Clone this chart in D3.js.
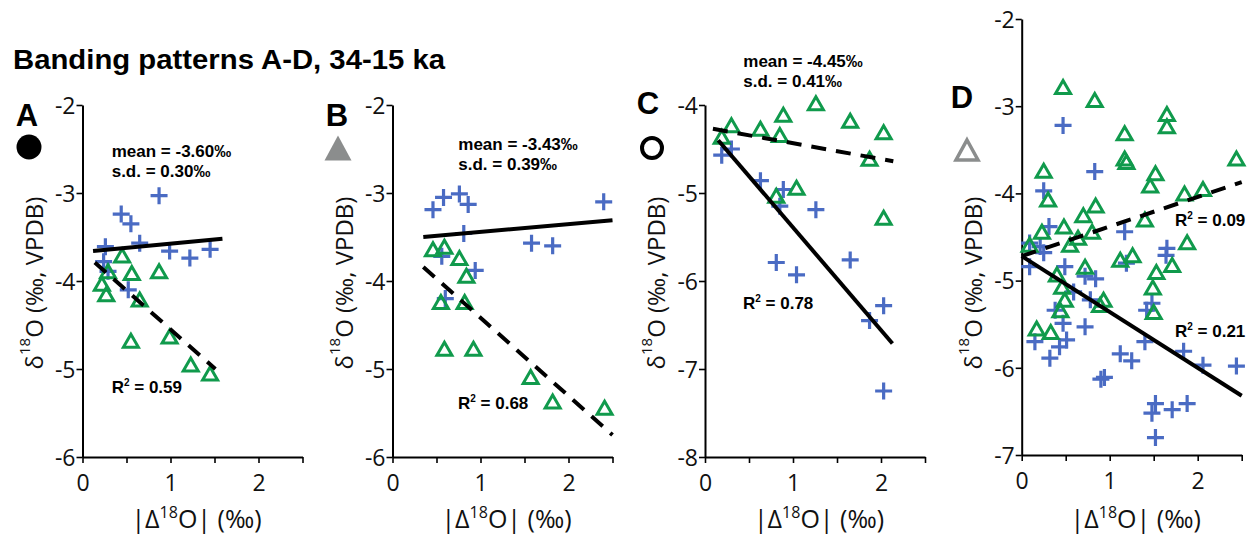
<!DOCTYPE html>
<html><head><meta charset="utf-8">
<script src="https://cdn.jsdelivr.net/npm/d3@7"></script>
<style>body{margin:0;background:#fff}svg{display:block}</style>
</head><body>
<svg id="chart" width="1249" height="536"></svg>
<script>
// ---------- DATA ----------
const titleText = "Banding patterns A-D, 34-15 ka";
const panelLetters = ["A", "B", "C", "D"];
const xTickValues = [0, 0.5, 1, 1.5, 2, 2.5];
const xTickLabels = ["0", "", "1", "", "2", ""];
const yTicksA = [-2, -3, -4, -5, -6];
const yTicksB = [-2, -3, -4, -5, -6];
const yTicksC = [-4, -5, -6, -7, -8];
const yTicksD = [-2, -3, -4, -5, -6, -7];

// blue crosses and green triangles: [|Δ18O|, δ18O]
const crossA = [[0.87,-3.03],[0.44,-3.24],[0.55,-3.35],[0.65,-3.57],[0.26,-3.61],[0.99,-3.66],[1.22,-3.74],[1.45,-3.64],[0.24,-3.78],[0.29,-3.89],[0.52,-4.10]];
const triA = [[0.45,-3.71],[0.29,-3.89],[0.56,-3.91],[0.87,-3.89],[0.22,-4.03],[0.27,-4.15],[0.65,-4.21],[0.55,-4.68],[0.99,-4.63],[1.23,-4.95],[1.45,-5.05]];
const solidA = [[0.12,-3.66],[1.59,-3.52]];
const dashA = [[0.14,-3.79],[1.51,-5.00]];

const crossB = [[0.46,-3.19],[0.58,-3.05],[0.76,-3.01],[0.86,-3.13],[0.81,-3.46],[2.40,-3.10],[1.58,-3.57],[1.82,-3.60],[0.56,-3.72],[0.94,-3.88],[0.60,-4.20]];
const triB = [[0.46,-3.64],[0.59,-3.61],[0.76,-3.74],[0.84,-3.94],[0.55,-4.24],[0.82,-4.24],[0.59,-4.77],[0.92,-4.77],[1.57,-5.09],[1.82,-5.37],[2.41,-5.44]];
const solidB = [[0.35,-3.50],[2.50,-3.31]];
const dashB = [[0.35,-3.84],[2.50,-5.75]];

const crossC = [[0.19,-4.57],[0.30,-4.50],[0.63,-4.86],[0.89,-4.96],[0.85,-5.15],[1.26,-5.19],[0.81,-5.79],[1.04,-5.93],[1.65,-5.76],[2.03,-6.28],[1.87,-6.45],[2.03,-7.25]];
const triC = [[0.19,-4.36],[0.30,-4.23],[0.63,-4.27],[0.89,-4.11],[0.85,-4.34],[1.26,-3.98],[1.65,-4.18],[2.03,-4.31],[1.87,-4.61],[1.04,-4.94],[0.81,-5.03],[2.03,-5.28]];
const solidC = [[0.15,-4.40],[2.13,-6.71]];
const dashC = [[0.09,-4.27],[2.14,-4.64]];

const crossD = [[0.47,-3.22],[0.83,-3.75],[0.25,-3.97],[0.31,-4.38],[1.17,-4.44],[0.09,-4.57],[0.21,-4.61],[1.65,-4.63],[0.25,-4.68],[0.09,-4.84],[1.64,-4.71],[1.19,-4.80],[0.49,-4.84],[0.72,-4.95],[0.84,-4.98],[0.59,-5.13],[0.78,-5.22],[0.38,-5.34],[1.48,-5.26],[1.42,-5.34],[0.47,-5.49],[0.72,-5.53],[0.15,-5.70],[0.51,-5.68],[0.43,-5.76],[1.40,-5.70],[0.32,-5.89],[1.12,-5.84],[1.25,-5.92],[1.84,-5.81],[2.06,-5.97],[2.44,-5.98],[0.90,-6.13],[0.94,-6.11],[1.52,-6.41],[1.71,-6.48],[1.88,-6.41],[1.48,-6.52],[1.52,-6.80]];
const triD = [[0.47,-2.78],[0.83,-2.93],[1.65,-3.09],[1.65,-3.23],[1.17,-3.31],[1.17,-3.60],[1.19,-3.64],[2.44,-3.60],[0.25,-3.74],[1.52,-3.77],[1.46,-3.91],[2.06,-3.95],[1.85,-4.00],[0.30,-4.07],[0.84,-4.14],[0.70,-4.25],[1.40,-4.30],[0.48,-4.38],[0.23,-4.44],[0.80,-4.44],[0.64,-4.51],[1.88,-4.56],[0.09,-4.59],[0.55,-4.59],[1.12,-4.76],[1.26,-4.71],[1.71,-4.82],[0.72,-4.84],[1.53,-4.90],[0.40,-4.93],[0.46,-5.07],[1.49,-5.08],[0.93,-5.22],[0.89,-5.28],[0.49,-5.22],[0.44,-5.34],[1.50,-5.36],[0.17,-5.55],[0.33,-5.59]];
const solidD = [[0.00,-4.72],[2.50,-6.32]];
const dashD = [[0.00,-4.72],[2.50,-3.87]];

const statsA = ["mean = -3.60‰", "s.d. = 0.30‰"];
const statsB = ["mean = -3.43‰", "s.d. = 0.39‰"];
const statsC = ["mean = -4.45‰", "s.d. = 0.41‰"];
const r2A = ["0.59"], r2B = ["0.68"], r2C = ["0.78"], r2D = ["0.09", "0.21"];

// ---------- LAYOUT ----------
const BLUE = "#4a6bc3", GREEN = "#109a4c", GREY = "#8b8d8d";
const svg = d3.select("#chart");

svg.append("text").attr("x", 13).attr("y", 69)
  .attr("font-family", "Liberation Sans, Arial, sans-serif").attr("font-weight", "bold")
  .attr("font-size", 27).attr("textLength", 432).attr("lengthAdjust", "spacingAndGlyphs")
  .text(titleText);

const panelsCfg = [
  {letter: panelLetters[0], x0: 82.5, yTop: 105, yBot: 457, yTicks: yTicksA, cross: crossA, tri: triA, solid: solidA, dash: dashA,
   stats: statsA, statsPos: [111.7, 157], r2: r2A, r2Pos: [[111.7, 393]], letterPos: [27, 126], marker: "disc", markerPos: [29, 147]},
  {letter: panelLetters[1], x0: 392.5, yTop: 105, yBot: 457, yTicks: yTicksB, cross: crossB, tri: triB, solid: solidB, dash: dashB,
   stats: statsB, statsPos: [458.3, 150], r2: r2B, r2Pos: [[458, 409]], letterPos: [337, 126], marker: "tri", markerPos: [338, 148]},
  {letter: panelLetters[2], x0: 705, yTop: 105, yBot: 457, yTicks: yTicksC, cross: crossC, tri: triC, solid: solidC, dash: dashC,
   stats: statsC, statsPos: [743.3, 67], r2: r2C, r2Pos: [[743, 309]], letterPos: [648, 114], marker: "ring", markerPos: [652, 148]},
  {letter: panelLetters[3], x0: 1021.7, yTop: 19, yBot: 455, yTicks: yTicksD, cross: crossD, tri: triD, solid: solidD, dash: dashD,
   stats: null, r2: r2D, r2Pos: [[1175, 226], [1175, 337]], letterPos: [962, 108], marker: "triOpen", markerPos: [967, 150]}
];

const tickFont = "Open Sans, Noto Sans, sans-serif";
const boldFont = "Liberation Sans, Arial, sans-serif";

panelsCfg.forEach(p => {
  const g = svg.append("g");
  const x = d3.scaleLinear().domain([0, 2.5]).range([p.x0, p.x0 + 220]);
  const yd = d3.extent(p.yTicks);
  const y = d3.scaleLinear().domain([yd[1], yd[0]]).range([p.yTop, p.yBot]);

  // axes
  const xAxis = d3.axisBottom(x).tickValues(xTickValues)
    .tickFormat((d, i) => xTickLabels[i]).tickSize(6).tickSizeOuter(0);
  const gx = g.append("g").attr("transform", `translate(0,${p.yBot})`).call(xAxis);
  const yAxis = d3.axisLeft(y).tickValues(p.yTicks).tickFormat(d3.format("d")).tickSize(6).tickSizeOuter(0);
  const gy = g.append("g").attr("transform", `translate(${p.x0},0)`).call(yAxis);
  [gx, gy].forEach(a => {
    a.select(".domain").attr("stroke", "#000").attr("stroke-width", 2);
    a.selectAll(".tick line").attr("stroke", "#000").attr("stroke-width", 1.6);
    a.selectAll(".tick text").attr("font-family", tickFont).attr("font-size", 23).attr("fill", "#111");
  });
  gx.selectAll(".tick text").attr("dy", 0).attr("y", 34);
  gy.selectAll(".tick text").attr("x", -7).attr("dy", "0.36em").text(d => String(d).replace("−", "-"));

  // axis titles
  const xt = g.append("text").attr("x", p.x0 + 114).attr("y", 528).attr("text-anchor", "middle")
    .attr("font-family", tickFont).attr("font-size", 25).attr("fill", "#111");
  xt.append("tspan").text("|Δ");
  xt.append("tspan").attr("font-size", 16).attr("dy", -10).text("18");
  xt.append("tspan").attr("dy", 10).text("O| (‰)");

  const yt = g.append("text").attr("transform", `translate(${p.x0 - 50},283) rotate(-90)`)
    .attr("text-anchor", "middle").attr("dominant-baseline", "central")
    .attr("font-family", tickFont).attr("font-size", 24).attr("fill", "#111");
  yt.append("tspan").text("δ");
  yt.append("tspan").attr("font-size", 15).attr("dy", -9).text("18");
  yt.append("tspan").attr("dy", 9).text("O (‰, VPDB)");

  // points
  g.append("g").selectAll("path.cross").data(p.cross).join("path").attr("class", "cross")
    .attr("d", d => `M${x(d[0]) - 8.5},${y(d[1])}h17M${x(d[0])},${y(d[1]) - 8.5}v17`)
    .attr("stroke", BLUE).attr("stroke-width", 3.2).attr("fill", "none");
  g.append("g").selectAll("path.tri").data(p.tri).join("path").attr("class", "tri")
    .attr("d", d => `M${x(d[0])},${y(d[1]) - 6.5}L${x(d[0]) + 7.5},${y(d[1]) + 6.5}L${x(d[0]) - 7.5},${y(d[1]) + 6.5}Z`)
    .attr("stroke", GREEN).attr("stroke-width", 3).attr("stroke-linejoin", "miter").attr("fill", "none");

  // regression lines
  const line = d3.line().x(d => x(d[0])).y(d => y(d[1]));
  g.append("path").datum(p.solid).attr("d", line).attr("stroke", "#000").attr("stroke-width", 4).attr("fill", "none");
  g.append("path").datum(p.dash).attr("d", line).attr("stroke", "#000").attr("stroke-width", 4)
    .attr("stroke-dasharray", "15,10").attr("fill", "none");

  // annotations
  if (p.stats) {
    p.stats.forEach((s, i) => {
      g.append("text").attr("x", p.statsPos[0]).attr("y", p.statsPos[1] + i * 20)
        .attr("font-family", boldFont).attr("font-weight", "bold").attr("font-size", 17).text(s);
    });
  }
  p.r2.forEach((r, i) => {
    const t = g.append("text").attr("x", p.r2Pos[i][0]).attr("y", p.r2Pos[i][1])
      .attr("font-family", boldFont).attr("font-weight", "bold").attr("font-size", 17);
    t.append("tspan").text("R");
    t.append("tspan").attr("font-size", 10).attr("dy", -7).text("2");
    t.append("tspan").attr("dy", 7).text(" = " + r);
  });

  // panel letter and marker
  g.append("text").attr("x", p.letterPos[0]).attr("y", p.letterPos[1]).attr("text-anchor", "middle")
    .attr("font-family", boldFont).attr("font-weight", "bold").attr("font-size", 31).text(p.letter);
  const [mx, my] = p.markerPos;
  if (p.marker === "disc") {
    g.append("circle").attr("cx", mx).attr("cy", my).attr("r", 12.5).attr("fill", "#000");
  } else if (p.marker === "ring") {
    g.append("circle").attr("cx", mx).attr("cy", my).attr("r", 10).attr("fill", "none").attr("stroke", "#000").attr("stroke-width", 4);
  } else if (p.marker === "tri") {
    g.append("path").attr("d", `M${mx},${my - 12.5}L${mx + 13.5},${my + 12.5}L${mx - 13.5},${my + 12.5}Z`).attr("fill", GREY);
  } else {
    g.append("path").attr("d", `M${mx},${my - 10}L${mx + 11},${my + 10}L${mx - 11},${my + 10}Z`)
      .attr("fill", "none").attr("stroke", GREY).attr("stroke-width", 3.5);
  }
});
</script>
</body></html>
